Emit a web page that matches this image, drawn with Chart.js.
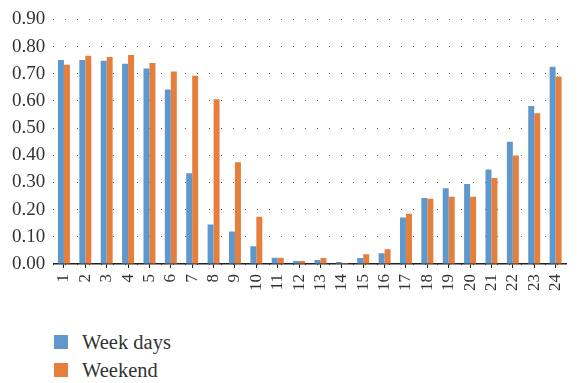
<!DOCTYPE html>
<html>
<head>
<meta charset="utf-8">
<script src="https://cdn.jsdelivr.net/npm/chart.js@4/dist/chart.umd.min.js"></script>
<style>
  html, body { margin: 0; padding: 0; background: #fff; }
  #wrap { position: relative; width: 582px; height: 383px; font-family: "Liberation Serif", "DejaVu Serif", serif; }
  #box { position: absolute; left: 0; top: 0; width: 582px; height: 297px; }
  #legend { position: absolute; left: 54px; top: 328px; color: #333; font-size: 20.5px; }
  .item { display: flex; align-items: center; height: 28px; }
  .swatch { width: 14px; height: 14px; margin-right: 14px; }
</style>
</head>
<body>
<div id="wrap">
  <div id="box"><canvas id="chart"></canvas></div>
  <div id="legend"></div>
</div>
<script>
// hour of day, 1..24
const hours = ['1', '2', '3', '4', '5', '6', '7', '8', '9', '10', '11', '12',
  '13', '14', '15', '16', '17', '18', '19', '20', '21', '22', '23', '24']

const weekDays = [0.751, 0.751, 0.748, 0.737, 0.719, 0.642, 0.334, 0.145, 0.120, 0.065, 0.023, 0.011,
  0.015, 0.007, 0.022, 0.040, 0.171, 0.243, 0.279, 0.294, 0.348, 0.450, 0.581, 0.726]
const weekend = [0.733, 0.766, 0.762, 0.769, 0.740, 0.708, 0.693, 0.606, 0.374, 0.174, 0.023, 0.011,
  0.022, 0.004, 0.036, 0.054, 0.185, 0.240, 0.247, 0.247, 0.316, 0.399, 0.555, 0.690]

const seriesNames = ['Week days', 'Weekend']
const COLORS = ['#6098CC', '#E67E3C']

const yMax = 0.9
const yStep = 0.1

const FONT = '"Liberation Serif", "DejaVu Serif", serif'
const TEXT = '#333'

const datasets = [weekDays, weekend].map((data, i) => ({
  label: seriesNames[i],
  data,
  backgroundColor: COLORS[i],
  borderWidth: 0,
  categoryPercentage: 0.56,
  barPercentage: 1.0,
}))

const chart = new Chart(document.getElementById('chart'), {
  type: 'bar',
  data: { labels: hours, datasets },
  options: {
    responsive: true,
    maintainAspectRatio: false,
    animation: false,
    layout: { padding: { top: 6, right: 0, left: 4, bottom: 0 } },
    plugins: {
      legend: { display: false },
      tooltip: { enabled: false },
    },
    scales: {
      x: {
        grid: {
          offset: false,
          drawOnChartArea: false,
          drawTicks: true,
          tickLength: 4,
          color: '#222',
        },
        border: { display: true, color: '#222', width: 1.5 },
        ticks: {
          color: TEXT,
          font: { family: FONT, size: 17 },
          minRotation: 90,
          maxRotation: 90,
          padding: 6,
          autoSkip: false,
        },
      },
      y: {
        min: 0,
        max: yMax,
        grid: {
          color: '#555',
          lineWidth: 1,
          drawTicks: false,
        },
        border: { display: false, dash: [1, 11] },
        ticks: {
          stepSize: yStep,
          color: TEXT,
          font: { family: FONT, size: 19 },
          padding: 8,
          callback: v => v.toFixed(2),
        },
      },
    },
  },
})

// legend stacked vertically below the plot
const legendEl = document.getElementById('legend')
chart.data.datasets.forEach(ds => {
  const row = document.createElement('div')
  row.className = 'item'
  const sw = document.createElement('span')
  sw.className = 'swatch'
  sw.style.background = ds.backgroundColor
  const label = document.createElement('span')
  label.textContent = ds.label
  row.appendChild(sw)
  row.appendChild(label)
  legendEl.appendChild(row)
})
</script>
</body>
</html>
